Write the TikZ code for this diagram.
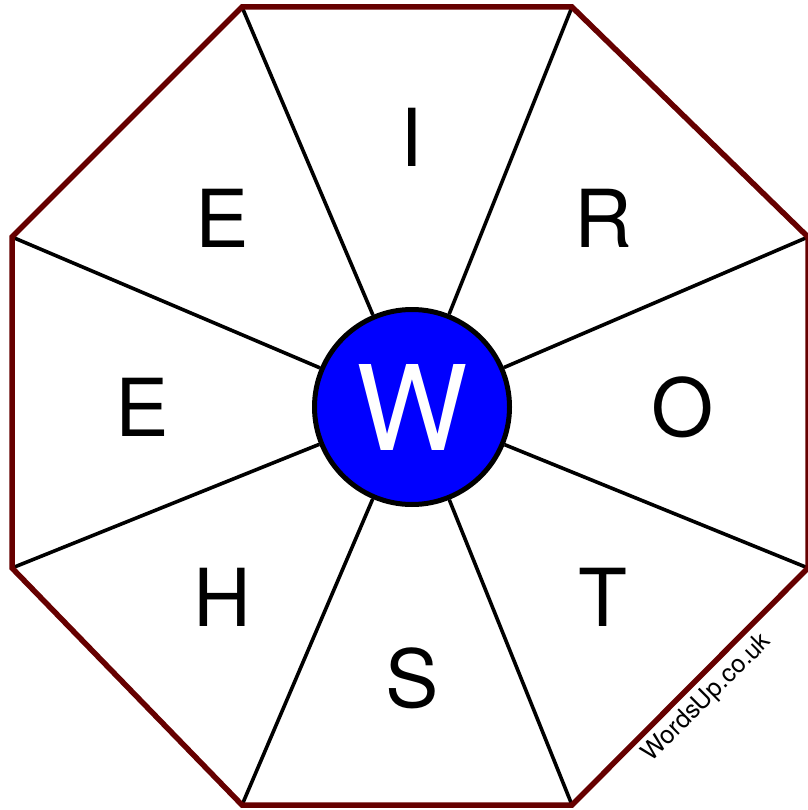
\documentclass[tikz,border=0pt]{standalone}
\usepackage{fontspec}
\setmainfont{TeX Gyre Heros}
\usetikzlibrary{positioning,calc}
\definecolor{rim}{HTML}{660000}
\definecolor{hubfill}{HTML}{0000FF}
\begin{document}
\begin{tikzpicture}[x=1pt,y=-1pt,
  spoke/.style={black,line width=3.6pt},
  letter/.style={font=\fontsize{80}{80}\selectfont,inner sep=0pt}]
  \useasboundingbox (0,0) rectangle (807,810);

  % Octagon corners
  \coordinate (v1) at (242,7);
  \coordinate (v2) at (572,7);
  \coordinate (v3) at (808,237);
  \coordinate (v4) at (808,568);
  \coordinate (v5) at (572,805);
  \coordinate (v6) at (242,805);
  \coordinate (v7) at (12,568);
  \coordinate (v8) at (12,237);

  % Centre letter
  \node[circle,draw=black,fill=hubfill,line width=5pt,minimum size=195pt,inner sep=0pt,
        text=white,font=\fontsize{118}{118}\selectfont] (hub) at (412,407) {W};

  % Spokes
  \draw[spoke] (hub) -- (v1);
  \draw[spoke] (hub) -- (v2);
  \draw[spoke] (hub) -- (v3);
  \draw[spoke] (hub) -- (v4);
  \draw[spoke] (hub) -- (v5);
  \draw[spoke] (hub) -- (v6);
  \draw[spoke] (hub) -- (v7);
  \draw[spoke] (hub) -- (v8);

  % Rim
  \draw[rim,line width=5.5pt,line join=miter] (v1) -- (v2) -- (v3) -- (v4) -- (v5) -- (v6) -- (v7) -- (v8) -- cycle;

  % Outer letters
  \node[letter] (lI) at (412,137) {I};
  \node[letter] (lR) at (603,218) {R};
  \node[letter] (lO) at (683,407) {O};
  \node[letter] (lT) at (603,597) {T};
  \node[letter] (lS) at (412,678) {S};
  \node[letter] (lH) at (222,597) {H};
  \node[letter] (lEw) at (142,407) {E};
  \node[letter] (lEn) at (222,218) {E};

  % Credit
  \node[font=\fontsize{25}{25}\selectfont,rotate=45,inner sep=0pt] (credit) at (707,698) {WordsUp.co.uk};
\end{tikzpicture}
\end{document}
